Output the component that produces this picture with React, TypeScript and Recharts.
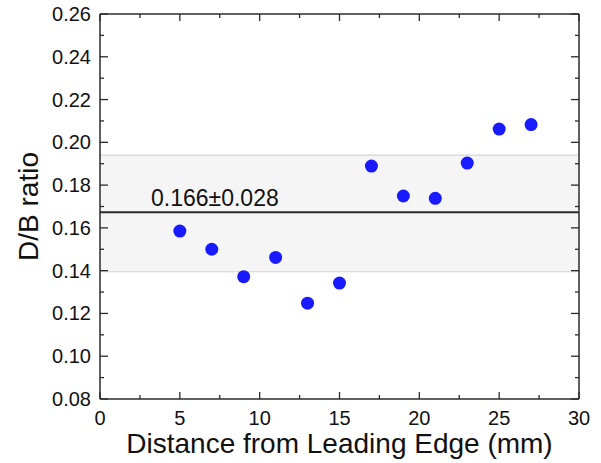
import React from "react";
import {
  ComposedChart,
  Scatter,
  XAxis,
  YAxis,
  ReferenceLine,
  ReferenceArea,
  Label,
} from "recharts";

// distance from leading edge (mm)
const distances = [5, 7, 9, 11, 13, 15, 17, 19, 21, 23, 25, 27];
// D/B ratio at each distance
const ratios = [0.1585, 0.150, 0.1372, 0.1462, 0.1248, 0.1342, 0.1889, 0.1749, 0.1738, 0.1903, 0.2062, 0.2083];

const meanRatio = 0.1673;
const bandLow = 0.1395;
const bandHigh = 0.194;
const meanLabel = "0.166\u00b10.028";

const xTicks = [0, 2.5, 5, 7.5, 10, 12.5, 15, 17.5, 20, 22.5, 25, 27.5, 30];
const yTicks = [0.08, 0.09, 0.1, 0.11, 0.12, 0.13, 0.14, 0.15, 0.16, 0.17, 0.18, 0.19, 0.2, 0.21, 0.22, 0.23, 0.24, 0.25, 0.26];

const data = distances.map((d, i) => ({ x: d, y: ratios[i] }));

const FONT = "'Liberation Sans', Arial, sans-serif";
const AXIS_COLOR = "#2b2b2b";
const DOT_COLOR = "#1a1aff";

const isMajorX = (v: number) => v % 5 === 0;
const isMajorY = (v: number) => Math.round(v * 100) % 2 === 0;

// ticks point inward; labels only on bottom/left majors
function BottomTick(props: any) {
  const { x, y, payload } = props;
  const major = isMajorX(payload.value);
  return (
    <g>
      <line x1={x} x2={x} y1={y} y2={y - (major ? 7 : 4)} stroke={AXIS_COLOR} strokeWidth={1.3} />
      {major && (
        <text x={x} y={y + 26} textAnchor="middle" fontSize={20} fontFamily={FONT} fill="#111">
          {payload.value}
        </text>
      )}
    </g>
  );
}

function TopTick(props: any) {
  const { x, y, payload } = props;
  const major = isMajorX(payload.value);
  return <line x1={x} x2={x} y1={y} y2={y + (major ? 7 : 4)} stroke={AXIS_COLOR} strokeWidth={1.3} />;
}

function LeftTick(props: any) {
  const { x, y, payload } = props;
  const major = isMajorY(payload.value);
  return (
    <g>
      <line x1={x} x2={x + (major ? 8 : 4)} y1={y} y2={y} stroke={AXIS_COLOR} strokeWidth={1.3} />
      {major && (
        <text x={x - 9} y={y + 7} textAnchor="end" fontSize={20} fontFamily={FONT} fill="#111">
          {payload.value.toFixed(2)}
        </text>
      )}
    </g>
  );
}

function RightTick(props: any) {
  const { x, y, payload } = props;
  const major = isMajorY(payload.value);
  return <line x1={x} x2={x - (major ? 8 : 4)} y1={y} y2={y} stroke={AXIS_COLOR} strokeWidth={1.3} />;
}

function Dot(props: any) {
  return <circle cx={props.cx} cy={props.cy} r={6.5} fill={DOT_COLOR} />;
}

function NoDot() {
  return <g />;
}

export default function App() {
  return (
    <div style={{ position: "absolute", left: 0, top: 0, width: 601, height: 463, background: "#fff" }}>
      <ComposedChart width={601} height={463} margin={{ top: 13, right: 21, bottom: 0, left: 0 }}>
        <XAxis
          xAxisId="b"
          type="number"
          dataKey="x"
          domain={[0, 30]}
          ticks={xTicks}
          interval={0}
          height={64}
          tickSize={0}
          tickMargin={0}
          tickLine={false}
          tick={<BottomTick />}
          axisLine={{ stroke: AXIS_COLOR, strokeWidth: 1.5 }}
        >
          <Label
            value="Distance from Leading Edge (mm)"
            position="insideBottom"
            offset={10}
            style={{ fontSize: 28, fontFamily: FONT, fill: "#111" }}
          />
        </XAxis>
        <XAxis
          xAxisId="t"
          orientation="top"
          type="number"
          dataKey="x"
          domain={[0, 30]}
          ticks={xTicks}
          interval={0}
          height={1}
          tickSize={0}
          tickMargin={0}
          tickLine={false}
          tick={<TopTick />}
          axisLine={{ stroke: AXIS_COLOR, strokeWidth: 1.5 }}
        />
        <YAxis
          yAxisId="l"
          type="number"
          dataKey="y"
          domain={[0.08, 0.26]}
          ticks={yTicks}
          interval={0}
          width={100}
          tickSize={0}
          tickMargin={0}
          tickLine={false}
          tick={<LeftTick />}
          axisLine={{ stroke: AXIS_COLOR, strokeWidth: 1.5 }}
        >
          <Label
            content={(p: any) => {
              const vb = p.viewBox;
              const cx = 38;
              const cy = vb.y + vb.height / 2;
              return (
                <text
                  x={cx}
                  y={cy}
                  transform={`rotate(-90, ${cx}, ${cy})`}
                  textAnchor="middle"
                  fontSize={28}
                  fontFamily={FONT}
                  fill="#111"
                >
                  D/B ratio
                </text>
              );
            }}
          />
        </YAxis>
        <YAxis
          yAxisId="r"
          orientation="right"
          type="number"
          dataKey="y"
          domain={[0.08, 0.26]}
          ticks={yTicks}
          interval={0}
          width={1}
          tickSize={0}
          tickMargin={0}
          tickLine={false}
          tick={<RightTick />}
          axisLine={{ stroke: AXIS_COLOR, strokeWidth: 1.5 }}
        />
        <ReferenceArea
          xAxisId="b"
          yAxisId="l"
          y1={bandLow}
          y2={bandHigh}
          fill="#f5f5f5"
          fillOpacity={1}
          stroke="none"
        />
        <ReferenceLine xAxisId="b" yAxisId="l" y={bandHigh} stroke="#d6d6d6" strokeWidth={1.2} />
        <ReferenceLine xAxisId="b" yAxisId="l" y={bandLow} stroke="#d6d6d6" strokeWidth={1.2} />
        <ReferenceLine
          xAxisId="b"
          yAxisId="l"
          y={meanRatio}
          stroke="#2b2b2b"
          strokeWidth={2}
          label={(p: any) => (
            <text
              x={p.viewBox.x + 51}
              y={p.viewBox.y - 6}
              fontSize={23}
              fontFamily={FONT}
              fill="#111"
            >
              {meanLabel}
            </text>
          )}
        />
        {/* invisible twin series so the mirrored top/right axes get drawn */}
        <Scatter
          xAxisId="t"
          yAxisId="r"
          data={data}
          dataKey="y"
          shape={<NoDot />}
          isAnimationActive={false}
        />
        <Scatter
          xAxisId="b"
          yAxisId="l"
          data={data}
          dataKey="y"
          shape={<Dot />}
          isAnimationActive={false}
        />
      </ComposedChart>
    </div>
  );
}
